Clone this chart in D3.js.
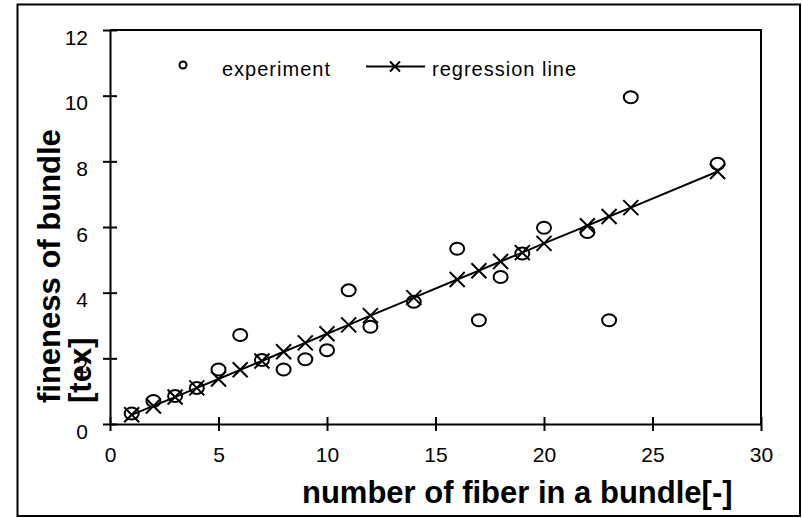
<!DOCTYPE html>
<html lang="en">
<head>
<meta charset="UTF-8">
<title>Fineness of bundle</title>
<script src="https://cdn.jsdelivr.net/npm/d3@7"></script>
<style>
  body { margin: 0; background: #fff; }
  svg text { font-family: "Liberation Sans", Arial, sans-serif; fill: #000; }
</style>
</head>
<body>
<div id="chart"></div>
<script>
// number of fibers in each bundle
const fiberCount = [1, 2, 3, 4, 5, 6, 7, 8, 9, 10, 11, 12, 14, 16, 17, 18, 19, 20, 22, 23, 24, 28];
// measured fineness [tex]
const experiment = [0.32, 0.70, 0.85, 1.10, 1.66, 2.71, 1.95, 1.66, 1.97, 2.25, 4.07, 2.96,
                    3.72, 5.34, 3.16, 4.48, 5.19, 5.98, 5.85, 3.16, 9.95, 7.93];
// regression line values
const regression = [0.28, 0.55, 0.82, 1.10, 1.37, 1.65, 1.92, 2.20, 2.47, 2.75, 3.02, 3.30,
                    3.85, 4.40, 4.67, 4.95, 5.22, 5.50, 6.04, 6.32, 6.59, 7.69];
const xTicks = [0, 5, 10, 15, 20, 25, 30];
const yTicks = [0, 2, 4, 6, 8, 10, 12];

const width = 802, height = 518;
const plot = { left: 110, right: 761, top: 30, bottom: 424 };

const svg = d3.select("#chart").append("svg")
    .attr("width", width)
    .attr("height", height);

// outer frame
svg.append("rect")
    .attr("x", 17.5).attr("y", 4.5)
    .attr("width", 782.5).attr("height", 511.5)
    .attr("fill", "#fff")
    .attr("stroke", "#000")
    .attr("stroke-width", 2);

const x = d3.scaleLinear().domain([0, 30]).range([plot.left, plot.right]);
const y = d3.scaleLinear().domain([0, 12]).range([plot.bottom, plot.top]);

// top and right frame of the plot area
svg.append("path")
    .attr("d", `M${plot.left},${plot.top}H${plot.right}V${plot.bottom}`)
    .attr("fill", "none")
    .attr("stroke", "#000")
    .attr("stroke-width", 2);

const xAxis = d3.axisBottom(x).tickValues(xTicks).tickSize(7).tickSizeOuter(0).tickPadding(16);
const yAxis = d3.axisLeft(y).tickValues(yTicks).tickSize(7).tickSizeOuter(0).tickPadding(15);

const gx = svg.append("g")
    .attr("transform", `translate(0,${plot.bottom})`)
    .call(xAxis);
const gy = svg.append("g")
    .attr("transform", `translate(${plot.left},0)`)
    .call(yAxis);

// ticks cross the axis line
gx.selectAll(".tick line").attr("y1", -7).attr("y2", 7);
gy.selectAll(".tick line").attr("x1", -7).attr("x2", 7);

[gx, gy].forEach(g => {
    g.selectAll("path, line").attr("stroke", "#000").attr("stroke-width", 2);
    g.selectAll("text")
        .attr("font-family", "Liberation Sans, Arial, sans-serif")
        .attr("font-size", 21)
        .attr("fill", "#000");
});
gy.selectAll("text").attr("dy", "0.68em").attr("x", -22);

const pts = fiberCount.map((n, i) => ({ n, exp: experiment[i], reg: regression[i] }));

// regression line
svg.append("path")
    .datum(pts)
    .attr("fill", "none")
    .attr("stroke", "#000")
    .attr("stroke-width", 2)
    .attr("d", d3.line().x(d => x(d.n)).y(d => y(d.reg)));

const cross = s => `M${-s},${-s}L${s},${s}M${-s},${s}L${s},${-s}`;

svg.append("g").selectAll("path")
    .data(pts)
    .join("path")
    .attr("transform", d => `translate(${x(d.n)},${y(d.reg)})`)
    .attr("d", cross(7.5))
    .attr("fill", "none")
    .attr("stroke", "#000")
    .attr("stroke-width", 2);

// experiment points
svg.append("g").selectAll("ellipse")
    .data(pts)
    .join("ellipse")
    .attr("cx", d => x(d.n))
    .attr("cy", d => y(d.exp))
    .attr("rx", 7)
    .attr("ry", 6)
    .attr("fill", "none")
    .attr("stroke", "#000")
    .attr("stroke-width", 2);

// legend
const legend = svg.append("g");
legend.append("circle")
    .attr("cx", 183).attr("cy", 65).attr("r", 3.5)
    .attr("fill", "none").attr("stroke", "#000").attr("stroke-width", 2);
legend.append("text")
    .attr("x", 222).attr("y", 76)
    .attr("font-size", 20).attr("letter-spacing", 1)
    .text("experiment");
legend.append("path")
    .attr("d", "M366,66.5H425")
    .attr("stroke", "#000").attr("stroke-width", 2);
legend.append("path")
    .attr("transform", "translate(395,66.5)")
    .attr("d", cross(5))
    .attr("fill", "none").attr("stroke", "#000").attr("stroke-width", 2);
legend.append("text")
    .attr("x", 432).attr("y", 76)
    .attr("font-size", 20).attr("letter-spacing", 1)
    .text("regression line");

// axis titles
svg.append("text")
    .attr("x", 302).attr("y", 503)
    .attr("font-size", 31).attr("font-weight", "bold")
    .text("number of fiber in a bundle[-]");

const yTitle = svg.append("text")
    .attr("transform", "translate(60,403) rotate(-90)")
    .attr("font-size", 31).attr("font-weight", "bold");
yTitle.append("tspan").attr("x", 0).attr("y", 0).text("fineness of bundle");
yTitle.append("tspan").attr("x", 0).attr("y", 31).text("[tex]");
</script>
</body>
</html>
